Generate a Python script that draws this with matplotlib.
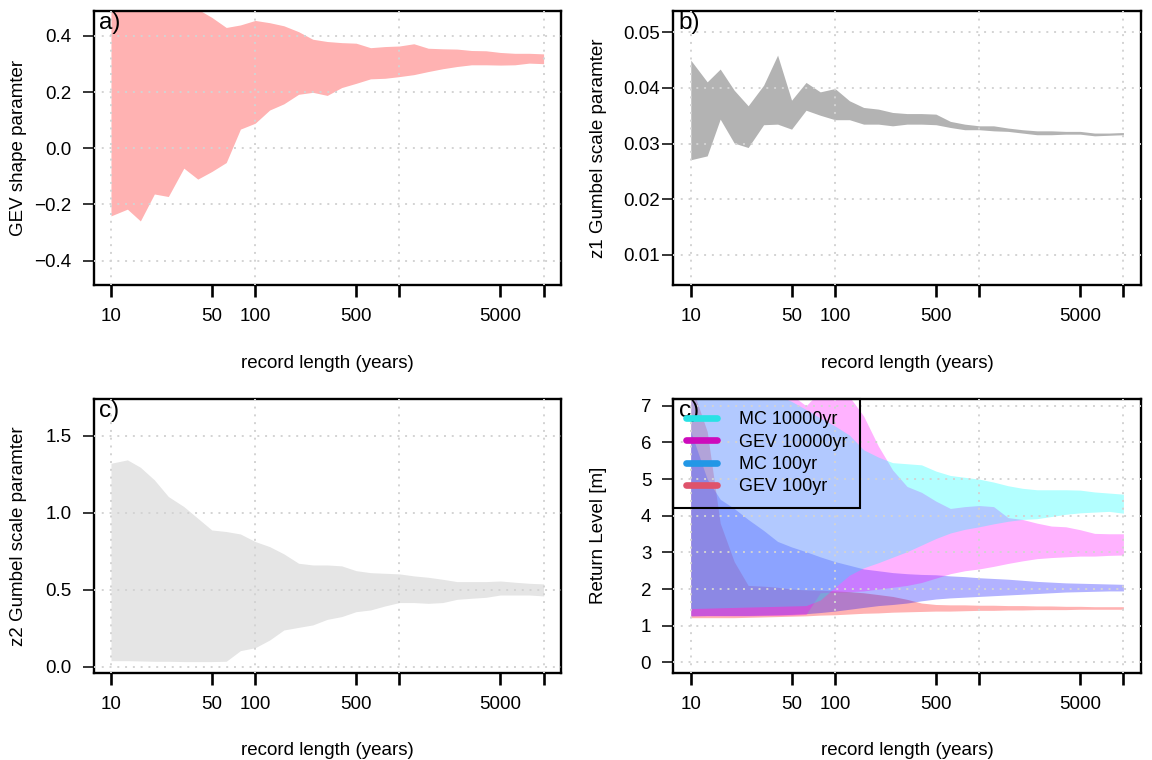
import matplotlib
matplotlib.use("Agg")
import matplotlib.pyplot as plt
from matplotlib.lines import Line2D
from matplotlib.ticker import NullLocator

plt.rcParams["font.family"] = ["Liberation Sans", "DejaVu Sans"]

# record lengths (years) at which the intervals were evaluated
years = [10, 13, 16, 20, 25, 32, 40, 50, 63, 79, 100, 126, 158, 200, 251, 316,
         398, 501, 631, 794, 1000, 1259, 1585, 1995, 2512, 3162, 3981, 5012,
         6310, 7943, 10000]

# a) GEV shape parameter interval
shape_lo = [-0.241, -0.217, -0.259, -0.163, -0.172, -0.071, -0.110, -0.083, -0.051, 0.068,
            0.089, 0.136, 0.158, 0.192, 0.199, 0.188, 0.216, 0.231, 0.247, 0.249,
            0.255, 0.262, 0.273, 0.283, 0.291, 0.297, 0.297, 0.296, 0.297, 0.303, 0.301]
shape_hi = [0.56, 0.55, 0.55, 0.54, 0.53, 0.52, 0.495, 0.466, 0.430, 0.439,
            0.455, 0.447, 0.436, 0.415, 0.388, 0.380, 0.376, 0.374, 0.358, 0.362,
            0.364, 0.372, 0.356, 0.354, 0.353, 0.348, 0.347, 0.341, 0.338, 0.338, 0.336]

# b) z1 Gumbel scale interval
z1_lo = [0.0271, 0.0278, 0.0344, 0.0301, 0.0293, 0.0334, 0.0335, 0.0326, 0.0360, 0.0351,
         0.0343, 0.0343, 0.0335, 0.0335, 0.0332, 0.0335, 0.0335, 0.0334, 0.0329, 0.0325,
         0.0325, 0.0323, 0.0322, 0.0319, 0.0316, 0.0316, 0.0317, 0.0317, 0.0314, 0.0315, 0.0316]
z1_hi = [0.0450, 0.0411, 0.0434, 0.0396, 0.0368, 0.0405, 0.0459, 0.0378, 0.0410, 0.0393,
         0.0399, 0.0377, 0.0365, 0.0362, 0.0356, 0.0354, 0.0354, 0.0353, 0.0340, 0.0335,
         0.0332, 0.0332, 0.0328, 0.0325, 0.0323, 0.0323, 0.0322, 0.0322, 0.0319, 0.0319, 0.0320]

# c) z2 Gumbel scale interval
z2_lo = [0.039, 0.039, 0.037, 0.035, 0.035, 0.033, 0.033, 0.033, 0.035, 0.104,
         0.123, 0.173, 0.238, 0.255, 0.271, 0.307, 0.325, 0.357, 0.368, 0.394,
         0.416, 0.416, 0.411, 0.416, 0.437, 0.444, 0.450, 0.465, 0.465, 0.465, 0.459]
z2_hi = [1.320, 1.342, 1.294, 1.212, 1.104, 1.039, 0.963, 0.887, 0.877, 0.861,
         0.812, 0.779, 0.732, 0.671, 0.660, 0.660, 0.654, 0.623, 0.610, 0.606,
         0.602, 0.589, 0.580, 0.567, 0.552, 0.552, 0.552, 0.556, 0.548, 0.541, 0.537]

# d) return level intervals [m]
gev100_lo = [1.22, 1.22, 1.22, 1.22, 1.23, 1.24, 1.25, 1.26, 1.27, 1.29,
             1.30, 1.32, 1.34, 1.35, 1.37, 1.38, 1.39, 1.40, 1.40, 1.41,
             1.42, 1.42, 1.43, 1.43, 1.44, 1.44, 1.44, 1.45, 1.45, 1.45, 1.45]
gev100_hi = [7.6, 6.3, 3.8, 2.75, 2.1, 2.08, 2.05, 2.0, 1.98, 1.97,
             1.95, 1.93, 1.9, 1.85, 1.8, 1.72, 1.62, 1.58, 1.57, 1.57,
             1.56, 1.56, 1.55, 1.55, 1.54, 1.54, 1.53, 1.53, 1.52, 1.52, 1.52]
mc100_lo = [1.27, 1.28, 1.28, 1.28, 1.28, 1.29, 1.30, 1.31, 1.33, 1.36,
            1.40, 1.45, 1.50, 1.55, 1.58, 1.62, 1.68, 1.73, 1.76, 1.78,
            1.80, 1.82, 1.84, 1.86, 1.88, 1.90, 1.92, 1.93, 1.94, 1.95, 1.95]
mc100_hi = [6.3, 5.0, 4.45, 4.2, 3.9, 3.6, 3.3, 3.15, 3.02, 2.88,
            2.75, 2.65, 2.55, 2.5, 2.45, 2.42, 2.4, 2.39, 2.36, 2.34,
            2.31, 2.29, 2.27, 2.24, 2.21, 2.19, 2.17, 2.16, 2.15, 2.14, 2.13]
gev10000_lo = [1.27, 1.27, 1.27, 1.27, 1.27, 1.28, 1.28, 1.29, 1.31, 1.9,
               1.92, 1.93, 1.95, 2.0, 2.05, 2.1, 2.18, 2.3, 2.42, 2.5,
               2.55, 2.62, 2.7, 2.77, 2.83, 2.86, 2.88, 2.9, 2.9, 2.92, 2.93]
gev10000_hi = [9.5, 9.3, 9.0, 8.8, 8.5, 8.2, 7.9, 7.3, 7.0, 7.4,
               7.4, 7.25, 6.72, 5.9, 5.25, 4.8, 4.64, 4.4, 4.2, 4.25,
               4.28, 4.25, 3.95, 3.9, 3.8, 3.72, 3.70, 3.62, 3.52, 3.51, 3.51]
mc10000_lo = [1.47, 1.48, 1.49, 1.50, 1.51, 1.52, 1.53, 1.54, 1.55, 1.7,
              2.05, 2.38, 2.58, 2.72, 2.87, 3.02, 3.2, 3.38, 3.53, 3.63,
              3.70, 3.78, 3.85, 3.9, 3.92, 3.98, 4.04, 4.08, 4.1, 4.12, 4.07]
mc10000_hi = [8.0, 8.0, 7.9, 7.8, 7.7, 7.5, 7.3, 7.12, 6.9, 6.67,
              6.45, 6.2, 5.8, 5.6, 5.45, 5.42, 5.39, 5.22, 5.1, 5.05,
              5.0, 4.92, 4.82, 4.75, 4.71, 4.71, 4.71, 4.70, 4.65, 4.62, 4.59]

x_ticks = [10, 50, 100, 500, 1000, 5000, 10000]
x_ticklabels = ["10", "50", "100", "500", "", "5000", ""]
x_grid = [10, 100, 1000, 10000]

legend_labels = ["MC 10000yr", "GEV 10000yr", "MC 100yr", "GEV 100yr"]
legend_colors = ["#28E2E5", "#CD0BBC", "#2297E6", "#DF536B"]

FS = 13.5
GRID_COLOR = "#d3d3d3"


def style_axis(ax, ylim, yticks, yticklabels, ylabel, tag, ypad=8):
    ax.set_xscale("log")
    ax.set_xlim(10 ** 0.88, 10 ** 4.12)
    ax.set_ylim(*ylim)
    for gx in x_grid:
        ax.axvline(gx, color=GRID_COLOR, lw=1.4, ls=(0, (1, 3)), zorder=3)
    for gy in yticks:
        ax.axhline(gy, color=GRID_COLOR, lw=1.4, ls=(0, (1, 3)), zorder=3)
    ax.set_xticks(x_ticks)
    ax.set_xticklabels(x_ticklabels)
    ax.xaxis.set_minor_locator(NullLocator())
    ax.set_yticks(yticks)
    ax.set_yticklabels(yticklabels)
    ax.tick_params(axis="x", length=8.5, width=1.9, pad=8.0, labelsize=FS)
    ax.tick_params(axis="y", length=8, width=1.1, pad=ypad, labelsize=FS)
    for s in ax.spines.values():
        s.set_linewidth(1.7)
    ax.set_xlabel("record length (years)", fontsize=FS)
    ax.xaxis.set_label_coords(0.5, -0.285)
    ax.xaxis.label.set_va("center")
    ax.set_ylabel(ylabel, fontsize=FS)
    ax.yaxis.set_label_coords(-0.161, 0.5)
    ax.yaxis.label.set_va("center")
    ax.text(0.011, 0.997, tag, transform=ax.transAxes, fontsize=17.5,
            ha="left", va="top", zorder=4)


fig = plt.figure(figsize=(11.52, 7.6), dpi=100)
W, H = 0.4056, 0.3603
ax_a = fig.add_axes([0.0813, 0.625, W, H])
ax_b = fig.add_axes([0.5846, 0.625, W, H])
ax_c = fig.add_axes([0.0813, 0.1149, W, H])
ax_d = fig.add_axes([0.5846, 0.1149, W, H])

# a) shape parameter
ax_a.fill_between(years, shape_lo, shape_hi, color="red", alpha=0.3, lw=0)
style_axis(ax_a, (-0.487, 0.488), [-0.4, -0.2, 0.0, 0.2, 0.4],
           ["\u22120.4", "\u22120.2", "0.0", "0.2", "0.4"], "GEV shape paramter", "a)")

# b) z1 scale
ax_b.fill_between(years, z1_lo, z1_hi, color="#b3b3b3", lw=0)
style_axis(ax_b, (0.0046, 0.0538), [0.01, 0.02, 0.03, 0.04, 0.05],
           ["0.01", "0.02", "0.03", "0.04", "0.05"], "z1 Gumbel scale paramter", "b)",
           ypad=2)

# c) z2 scale
ax_c.fill_between(years, z2_lo, z2_hi, color="#e5e5e5", lw=0)
style_axis(ax_c, (-0.039, 1.738), [0.0, 0.5, 1.0, 1.5],
           ["0.0", "0.5", "1.0", "1.5"], "z2 Gumbel scale paramter", "c)")

# d) return levels, drawn 100yr first so the 10000yr bands sit on top
ax_d.fill_between(years, gev100_lo, gev100_hi, color="red", alpha=0.3, lw=0)
ax_d.fill_between(years, mc100_lo, mc100_hi, color="blue", alpha=0.3, lw=0)
ax_d.fill_between(years, gev10000_lo, gev10000_hi, color="magenta", alpha=0.3, lw=0)
ax_d.fill_between(years, mc10000_lo, mc10000_hi, color="cyan", alpha=0.3, lw=0)
style_axis(ax_d, (-0.28, 7.19), list(range(8)), [str(v) for v in range(8)],
           "Return Level [m]", "c)")

handles = [Line2D([], [], color=c, lw=4.8, solid_capstyle="round") for c in legend_colors]
leg = ax_d.legend(handles, legend_labels, loc="upper left", bbox_to_anchor=(0, 1),
                  borderaxespad=0, fontsize=13, handlelength=1.75, handletextpad=1.2,
                  borderpad=0.68, labelspacing=0.3, fancybox=False, framealpha=1)
leg.get_frame().set_facecolor("none")
leg.get_frame().set_edgecolor("black")
leg.get_frame().set_linewidth(1.5)
leg.set_zorder(5)

fig.savefig("out.png", dpi=100)
